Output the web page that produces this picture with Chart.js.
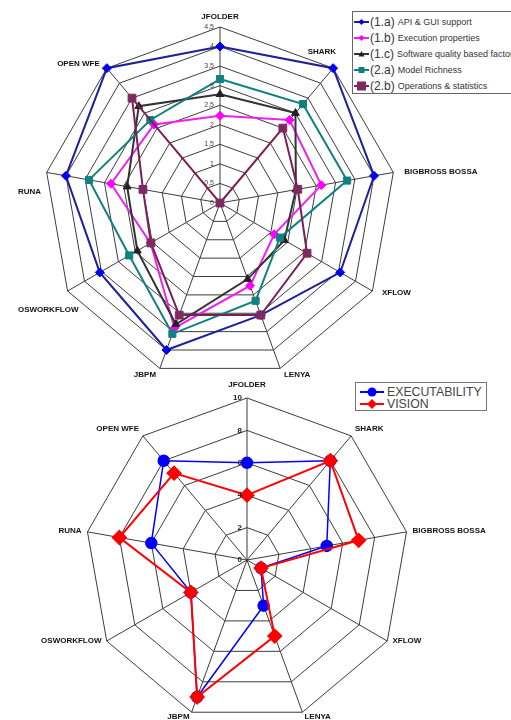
<!DOCTYPE html>
<html>
<head>
<meta charset="utf-8">
<script src="https://cdn.jsdelivr.net/npm/chart.js@4.4.0/dist/chart.umd.min.js"></script>
<style>
html, body { margin:0; padding:0; background:#fff; width:511px; height:720px; overflow:hidden; }
#page { position:relative; width:511px; height:720px; overflow:hidden; background:#fff; }
canvas { position:absolute; left:0; }
#cTop { top:0; }
#cBottom { top:370px; }
.legend { position:absolute; background:#fff; font-family:"Liberation Sans", Arial, sans-serif; color:#333; box-sizing:border-box; }
#legTop { left:352px; top:11px; width:175px; height:83px; border:1px solid #666; padding-top:2px; }
#legBottom { left:355px; top:382px; width:132px; height:29px; border:1px solid #777; padding-top:3px; color:#444; }
.row { display:flex; align-items:center; white-space:nowrap; }
.row svg { flex:none; }
</style>
</head>
<body>
<div id="page">
  <canvas id="cTop" width="511" height="392"></canvas>
  <canvas id="cBottom" width="511" height="360"></canvas>
  <div id="legTop" class="legend"></div>
  <div id="legBottom" class="legend"></div>
</div>
<script>
// categorias (sentido horario desde arriba)
const categories = ['JFOLDER', 'SHARK', 'BIGBROSS BOSSA', 'XFLOW', 'LENYA', 'JBPM', 'OSWORKFLOW', 'RUNA', 'OPEN WFE'];

// grafico superior
const apiGui    = [4, 4.5, 4, 3.55, 3.05, 4, 3.55, 4, 4.5];
const execProps = [2.23, 2.77, 2.63, 1.6, 2.25, 3.4, 2.05, 2.83, 2.62];
const swQuality = [2.78, 3, 1.97, 1.9, 2.07, 3.3, 2.44, 2.41, 3.23];
const modelRich = [3.17, 3.3, 3.3, 1.77, 2.66, 3.56, 2.68, 3.4, 2.77];
const opsStats  = [0, 2.5, 2.02, 2.57, 3.05, 3.05, 2.04, 2, 3.5];
const topTicks  = ['0', '0,5', '1', '1,5', '2', '2,5', '3', '3,5', '4', '4,5'];

// grafico inferior
const executability = [6, 8, 5, 1, 3, 9, 4, 6, 8];
const vision        = [4, 8, 7, 1, 5, 9, 4, 8, 7];
const bottomTicks   = ['0', '2', '4', '6', '8', '10'];

// etiquetas de ejes y de ticks dibujadas con la escala radial
const axisText = {
    id: 'axisText',
    afterDraw(chart, args, o) {
        const s = chart.scales.r;
        const ctx = chart.ctx;
        ctx.save();
        ctx.fillStyle = '#111';
        ctx.font = o.labelFont;
        chart.data.labels.forEach((lbl, i) => {
            const a = s.getIndexAngle(i);
            const v = s.getPointPosition(i, s.drawingArea);
            const sn = Math.sin(a), cs = Math.cos(a);
            let x = v.x + sn * o.padX;
            let y = v.y - cs * (cs > 0 ? o.padUp : o.padDown);
            let align = Math.abs(sn) < 0.05 ? 'center' : (sn > 0 ? 'left' : 'right');
            let base = cs > 0.95 ? 'bottom' : (cs < -0.8 ? 'top' : 'middle');
            const w = ctx.measureText(lbl).width;
            // si no cabe (borde o leyenda), se mueve como en el original
            if (align === 'right' && x - w < o.minX) {
                align = 'left'; x = o.minX; base = 'top'; y = v.y + o.dropY;
            } else if (align === 'left' && x + w > o.maxX && v.y < o.maxY) {
                align = 'right'; x = v.x + 3; base = 'bottom'; y = v.y - o.liftY;
            }
            ctx.textAlign = align;
            ctx.textBaseline = base;
            ctx.fillText(lbl, x, y);
        });
        ctx.font = o.tickFont;
        ctx.fillStyle = o.tickColor;
        ctx.textAlign = 'right';
        ctx.textBaseline = 'middle';
        s.ticks.forEach(t => {
            const d = s.getDistanceFromCenterForValue(t.value);
            ctx.fillText(t.label, s.xCenter - o.tickGap, s.yCenter - d);
        });
        ctx.restore();
    }
};

const chartTop = new Chart(document.getElementById('cTop').getContext('2d'), {
    type: 'radar',
    data: {
        labels: categories,
        datasets: [{
            label: '(1.a) API & GUI support',
            data: apiGui,
            borderColor: '#1f1f99',
            pointBackgroundColor: '#0000ee',
            pointBorderColor: '#0000ee',
            pointStyle: 'rectRot',
            pointRadius: 4.5,
            order: 5
        }, {
            label: '(1.b) Execution properties',
            data: execProps,
            borderColor: '#ee22ee',
            pointBackgroundColor: '#ff00ff',
            pointBorderColor: '#ff00ff',
            pointStyle: 'rectRot',
            pointRadius: 4.5,
            order: 4
        }, {
            label: '(1.c) Software quality based factors',
            data: swQuality,
            borderColor: '#333333',
            pointBackgroundColor: '#222222',
            pointBorderColor: '#222222',
            pointStyle: 'triangle',
            pointRadius: 4.5,
            order: 3
        }, {
            label: '(2.a) Model Richness',
            data: modelRich,
            borderColor: '#118080',
            pointBackgroundColor: '#118080',
            pointBorderColor: '#118080',
            pointStyle: 'rect',
            pointRadius: 5,
            order: 2
        }, {
            label: '(2.b) Operations & statistics',
            data: opsStats,
            borderColor: '#7a1f5a',
            pointBackgroundColor: '#7f2a5f',
            pointBorderColor: '#7f2a5f',
            pointStyle: 'rect',
            pointRadius: 5.5,
            order: 1
        }]
    },
    options: {
        responsive: false,
        animation: false,
        events: [],
        layout: { padding: { left: 44, top: 27, right: 115, bottom: 13 } },
        elements: { line: { borderWidth: 2, fill: false, tension: 0 }, point: { borderWidth: 1 } },
        scales: {
            r: {
                min: 0,
                max: 4.5,
                ticks: { display: false, stepSize: 0.5, callback: (v, i) => topTicks[i] },
                pointLabels: { display: false },
                grid: { color: '#3c3c3c', lineWidth: 1 },
                angleLines: { color: '#3c3c3c', lineWidth: 1 }
            }
        },
        plugins: {
            legend: { display: false },
            tooltip: { enabled: false },
            axisText: {
                padX: 11, padUp: 6, padDown: 3, minX: 18, maxX: 350, maxY: 95, dropY: 15, liftY: 12,
                labelFont: 'bold 8px "Liberation Sans", Arial, sans-serif',
                tickFont: '7px "Liberation Sans", Arial, sans-serif', tickColor: '#444', tickGap: 6
            }
        }
    },
    plugins: [axisText]
});

const chartBottom = new Chart(document.getElementById('cBottom').getContext('2d'), {
    type: 'radar',
    data: {
        labels: categories,
        datasets: [{
            label: 'EXECUTABILITY',
            data: executability,
            borderColor: '#0000ff',
            borderWidth: 1.5,
            pointBackgroundColor: '#0000ff',
            pointBorderColor: '#0000ff',
            pointStyle: 'circle',
            pointRadius: 5.5,
            order: 2
        }, {
            label: 'VISION',
            data: vision,
            borderColor: '#ff0000',
            borderWidth: 2,
            pointBackgroundColor: '#ff0000',
            pointBorderColor: '#ff0000',
            pointStyle: 'rectRot',
            pointRadius: 6.5,
            order: 1
        }]
    },
    options: {
        responsive: false,
        animation: false,
        events: [],
        layout: { padding: { left: 85, top: 28, right: 102, bottom: 8 } },
        elements: { line: { fill: false, tension: 0 }, point: { borderWidth: 1 } },
        scales: {
            r: {
                min: 0,
                max: 10,
                ticks: { display: false, stepSize: 2, callback: (v, i) => bottomTicks[i] },
                pointLabels: { display: false },
                grid: { color: '#3c3c3c', lineWidth: 1 },
                angleLines: { color: '#3c3c3c', lineWidth: 1 }
            }
        },
        plugins: {
            legend: { display: false },
            tooltip: { enabled: false },
            axisText: {
                padX: 6, padUp: 9, padDown: 0.5, minX: 0, maxX: 511, maxY: 0, dropY: 12, liftY: 10,
                labelFont: 'bold 8px "Liberation Sans", Arial, sans-serif',
                tickFont: 'bold 8px "Liberation Sans", Arial, sans-serif', tickColor: '#222', tickGap: 5
            }
        }
    },
    plugins: [axisText]
});

// leyendas en HTML a partir de los datasets
function marker(style, fill, line, w, h, r) {
    const cx = w / 2, cy = h / 2;
    let shape;
    if (style === 'rectRot') shape = `<polygon points="${cx},${cy - r} ${cx + r},${cy} ${cx},${cy + r} ${cx - r},${cy}" fill="${fill}"/>`;
    else if (style === 'triangle') shape = `<polygon points="${cx},${cy - r} ${cx + r},${cy + r * 0.8} ${cx - r},${cy + r * 0.8}" fill="${fill}"/>`;
    else if (style === 'rect') shape = `<rect x="${cx - r}" y="${cy - r}" width="${2 * r}" height="${2 * r}" fill="${fill}"/>`;
    else shape = `<circle cx="${cx}" cy="${cy}" r="${r}" fill="${fill}"/>`;
    return `<svg width="${w}" height="${h}"><line x1="0" y1="${cy}" x2="${w}" y2="${cy}" stroke="${line}" stroke-width="2"/>${shape}</svg>`;
}

function buildLegend(chart, id, cfg) {
    const box = document.getElementById(id);
    chart.data.datasets.forEach((ds, i) => {
        const row = document.createElement('div');
        row.className = 'row';
        row.style.height = cfg.rowH + 'px';
        let html = `<span style="margin-left:${cfg.ml}px;display:flex">` +
            marker(ds.pointStyle, ds.pointBackgroundColor, ds.borderColor, cfg.w, cfg.h, cfg.r[i]) + '</span>';
        if (cfg.split) {
            const sp = ds.label.indexOf(' ');
            html += `<span style="font-size:12px;margin-left:1px;margin-right:3px">${ds.label.slice(0, sp)}</span>` +
                `<span style="font-size:9px">${ds.label.slice(sp + 1)}</span>`;
        } else {
            html += `<span style="font-size:12.3px;margin-left:3px">${ds.label}</span>`;
        }
        row.innerHTML = html;
        box.appendChild(row);
    });
}

buildLegend(chartTop, 'legTop', { rowH: 16, ml: 1, w: 15, h: 12, r: [3, 3, 3, 3, 4.5], split: true });
buildLegend(chartBottom, 'legBottom', { rowH: 12, ml: 4, w: 24, h: 12, r: [4.5, 5], split: false });
</script>
</body>
</html>
